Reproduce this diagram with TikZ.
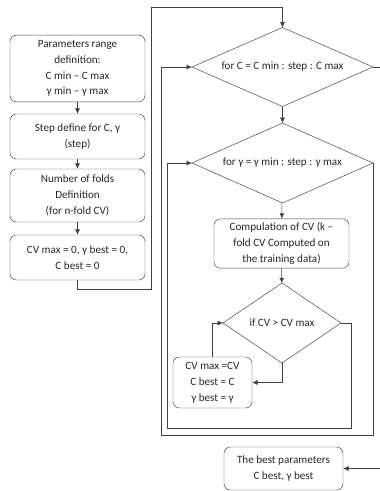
\documentclass[tikz,border=0pt]{standalone}
\usepackage{fontspec}
\setmainfont{Carlito}
\usetikzlibrary{shapes.geometric,arrows.meta}

\tikzset{
  flowbox/.style={draw=black!75,rounded corners=5.5pt,align=center,inner sep=1pt,
    font=\fontsize{9.5}{13.5}\selectfont,text=black!85},
  loopdia/.style={draw=black!75,diamond,aspect=2.3,inner sep=0pt,outer sep=0pt,
    font=\fontsize{9.5}{13.5}\selectfont,text=black!85},
  flow/.style={draw=black!75,-{Latex[length=4.5pt,width=4pt]}}
}

\begin{document}
\begin{tikzpicture}[x=0.03cm,y=-0.03cm]
        \useasboundingbox (0,0) rectangle (379,491);

        % Left column: the set-up steps
        \node[flowbox,minimum width=4.05cm,minimum height=2.0cm] (range) at (77.5,68.5)
          {Parameters range\\definition:\\C min -- C max\\γ min -- γ max};
        \node[flowbox,minimum width=4.05cm,minimum height=1.35cm] (stepdef) at (77.5,136.5)
          {Step define for C, γ\\(step)};
        \node[flowbox,minimum width=4.05cm,minimum height=1.59cm] (folds) at (77.5,195.5)
          {Number of folds\\Definition\\(for n-fold CV)};
        \node[flowbox,minimum width=4.05cm,minimum height=1.35cm] (init) at (77.5,257.5)
          {CV max = 0, γ best = 0,\\C best = 0};

        % Loops and tests
        \node[loopdia,minimum width=5.43cm,minimum height=2.37cm] (forc) at (282.5,67)
          {for C = C min : step : C max};
        \node[loopdia,minimum width=5.43cm,minimum height=2.4cm] (forg) at (282.5,163)
          {for γ = γ min : step : γ max};
        \node[flowbox,minimum width=4.05cm,minimum height=1.48cm] (comp) at (281.5,243.5)
          {Compulation of CV (k --\\fold CV Computed on\\the training data)};
        \node[loopdia,minimum width=3.54cm,minimum height=2.4cm] (ifcv) at (282,323)
          {if CV > CV max};
        \node[flowbox,minimum width=2.37cm,minimum height=1.53cm] (update) at (212.5,382.5)
          {CV max =CV\\C best = C\\γ best = γ};
        \node[flowbox,minimum width=3.57cm,minimum height=1.29cm] (best) at (283.5,468.5)
          {The best parameters\\C best, γ best};

        % Straight arrows
        \draw[flow] (range) -- (stepdef);
        \draw[flow] (stepdef) -- (folds);
        \draw[flow] (folds) -- (init);
        \draw[flow] (forc) -- (forg);
        \draw[flow] (forg) -- (comp);
        \draw[flow] (comp) -- (ifcv);

        % Into the loops
        \draw[flow] (init.south) -- ++(0,8.5) -| (151,7) -| (forc.north);
        \draw[flow] (ifcv.south) |- (update.east);
        \draw[flow] (update.north) |- (ifcv.west);

        % Loop backs
        \draw[flow] (ifcv.east) -- (351,323) |- (167,428) |- (forg.west);
        \draw[flow] (forg.east) |- (161,435) |- (forc.west);
        \draw[flow] (forc.east) -- (385,67) |- (best.east);
    \end{tikzpicture}
\end{document}
